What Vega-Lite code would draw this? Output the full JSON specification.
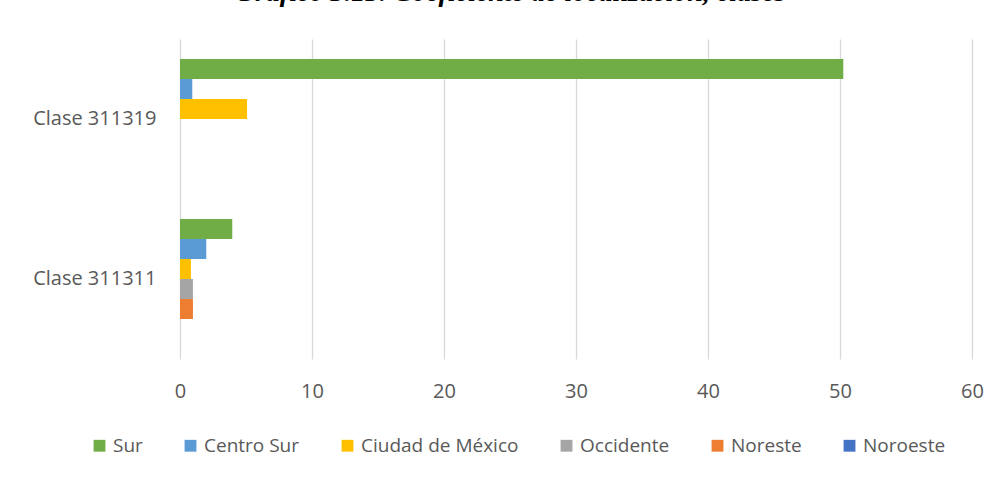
{
  "$schema": "https://vega.github.io/schema/vega-lite/v6.json",
  "width": 792,
  "height": 320,
  "autosize": {"type": "none"},
  "padding": {"left": 180, "top": 39, "right": 28, "bottom": 119},
  "background": "white",
  "title": {
    "text": "Gráfico 3.13. Coeficiente de localización, clases",
    "font": "Liberation Serif",
    "fontSize": 28,
    "fontStyle": "italic",
    "fontWeight": "bold",
    "color": "#000000",
    "anchor": "middle",
    "offset": 32,
    "dx": -66
  },
  "data": {
    "values": [
      {"clase": "Clase 311319", "region": "Sur", "valor": 50.25},
      {"clase": "Clase 311319", "region": "Centro Sur", "valor": 0.93},
      {"clase": "Clase 311319", "region": "Ciudad de México", "valor": 5.08},
      {"clase": "Clase 311319", "region": "Occidente", "valor": 0},
      {"clase": "Clase 311319", "region": "Noreste", "valor": 0},
      {"clase": "Clase 311319", "region": "Noroeste", "valor": 0},
      {"clase": "Clase 311311", "region": "Sur", "valor": 3.96},
      {"clase": "Clase 311311", "region": "Centro Sur", "valor": 1.99},
      {"clase": "Clase 311311", "region": "Ciudad de México", "valor": 0.83},
      {"clase": "Clase 311311", "region": "Occidente", "valor": 0.98},
      {"clase": "Clase 311311", "region": "Noreste", "valor": 0.98},
      {"clase": "Clase 311311", "region": "Noroeste", "valor": 0}
    ]
  },
  "mark": {"type": "bar"},
  "encoding": {
    "y": {
      "field": "clase",
      "type": "nominal",
      "sort": ["Clase 311319", "Clase 311311"],
      "scale": {"paddingInner": 0, "paddingOuter": 0},
      "axis": {
        "title": null,
        "domain": false,
        "ticks": false,
        "labelFont": "Open Sans",
        "labelFontSize": 20,
        "labelColor": "#595959",
        "labelPadding": 24
      }
    },
    "yOffset": {
      "field": "region",
      "type": "nominal",
      "sort": ["Sur", "Centro Sur", "Ciudad de México", "Occidente", "Noreste", "Noroeste"],
      "scale": {"paddingInner": 0, "paddingOuter": 1}
    },
    "x": {
      "field": "valor",
      "type": "quantitative",
      "scale": {"domain": [0, 60], "nice": false},
      "axis": {
        "title": null,
        "values": [0, 10, 20, 30, 40, 50, 60],
        "domain": false,
        "ticks": false,
        "grid": true,
        "gridColor": "#D9D9D9",
        "gridWidth": 1.3,
        "labelFlush": false,
        "labelFont": "Open Sans",
        "labelFontSize": 20,
        "labelColor": "#595959",
        "labelPadding": 22
      }
    },
    "color": {
      "field": "region",
      "type": "nominal",
      "sort": ["Sur", "Centro Sur", "Ciudad de México", "Occidente", "Noreste", "Noroeste"],
      "scale": {
        "domain": ["Sur", "Centro Sur", "Ciudad de México", "Occidente", "Noreste", "Noroeste"],
        "range": ["#70AD47", "#5B9BD5", "#FFC000", "#A5A5A5", "#ED7D31", "#4472C4"]
      },
      "legend": {
        "title": null,
        "orient": "none",
        "legendX": -90,
        "legendY": 397,
        "direction": "horizontal",
        "columns": 6,
        "symbolType": "square",
        "symbolSize": 140,
        "symbolStrokeWidth": 0,
        "labelFont": "Open Sans",
        "labelFontSize": 19,
        "labelLimit": 0,
        "labelColor": "#595959",
        "columnPadding": 38,
        "labelOffset": 4
      }
    }
  },
  "config": {
    "view": {"stroke": null}
  }
}
